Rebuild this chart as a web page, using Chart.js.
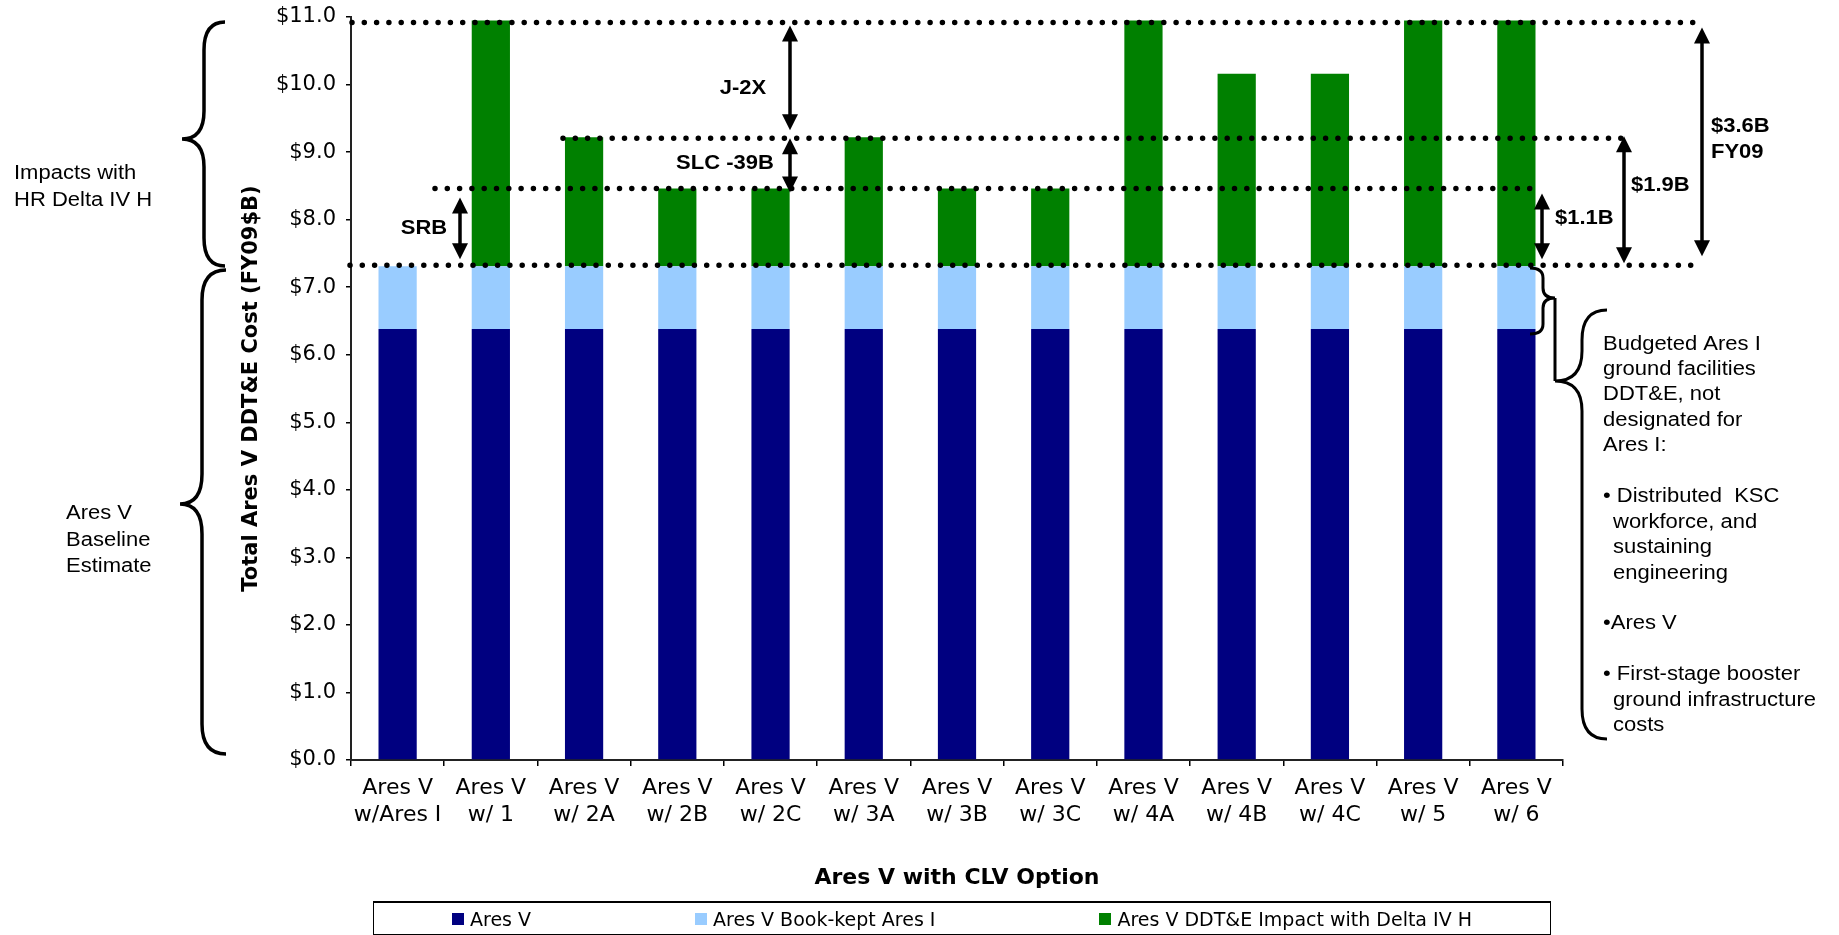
<!DOCTYPE html>
<html>
<head>
<meta charset="utf-8">
<title>Ares V DDT&amp;E Cost</title>
<script src="https://cdn.jsdelivr.net/npm/chart.js@4.4.0/dist/chart.umd.min.js"></script>
<style>
  html, body { margin: 0; padding: 0; background: #fff; }
  #wrap { position: relative; width: 1839px; height: 935px; }
  #legend {
    position: absolute; left: 373px; top: 901px; width: 1176px; height: 31px;
    border: 1px solid #000; border-top-width: 2px;
    display: flex; justify-content: center; align-items: center; gap: 164px;
    font-family: "DejaVu Sans", sans-serif; font-size: 19px; color: #000;
  }
  .item { white-space: nowrap; display: flex; align-items: center; }
  .box { display: inline-block; width: 12px; height: 12px; margin-right: 6px; }
</style>
</head>
<body>
<div id="wrap">
  <canvas id="chart" width="1839" height="935"></canvas>
  <div id="legend"></div>
</div>
<script>
// categories (two-line tick labels)
var categories = [
    ["Ares V", "w/Ares I"], ["Ares V", "w/ 1"], ["Ares V", "w/ 2A"], ["Ares V", "w/ 2B"],
    ["Ares V", "w/ 2C"], ["Ares V", "w/ 3A"], ["Ares V", "w/ 3B"], ["Ares V", "w/ 3C"],
    ["Ares V", "w/ 4A"], ["Ares V", "w/ 4B"], ["Ares V", "w/ 4C"], ["Ares V", "w/ 5"],
    ["Ares V", "w/ 6"]
];

// series, FY09 $B
var aresV = [6.38, 6.38, 6.38, 6.38, 6.38, 6.38, 6.38, 6.38, 6.38, 6.38, 6.38, 6.38, 6.38];
var bookKept = [0.93, 0.93, 0.93, 0.93, 0.93, 0.93, 0.93, 0.93, 0.93, 0.93, 0.93, 0.93, 0.93];
var deltaImpact = [0, 3.64, 1.91, 1.15, 1.15, 1.91, 1.15, 1.15, 3.64, 2.85, 2.85, 3.64, 3.64];

var seriesNames = ["Ares V", "Ares V Book-kept Ares I", "Ares V DDT&E Impact with Delta IV H"];
var seriesColors = ["#000080", "#99CCFF", "#008000"];

var yMin = 0, yMax = 11, yStep = 1;

function dots(ctx, x1, x2, y) {
    ctx.save();
    ctx.strokeStyle = "#000";
    ctx.lineWidth = 5.5;
    ctx.lineCap = "round";
    ctx.setLineDash([0, 12.3]);
    ctx.beginPath();
    ctx.moveTo(x1, y);
    ctx.lineTo(x2, y);
    ctx.stroke();
    ctx.restore();
}

function arrow(ctx, x, y1, y2) {
    var h = 16, w = 8;
    ctx.save();
    ctx.fillStyle = "#000";
    ctx.strokeStyle = "#000";
    ctx.lineWidth = 3.5;
    ctx.beginPath();
    ctx.moveTo(x, y1 + h - 2);
    ctx.lineTo(x, y2 - h + 2);
    ctx.stroke();
    ctx.beginPath();
    ctx.moveTo(x, y1);
    ctx.lineTo(x - w, y1 + h);
    ctx.lineTo(x + w, y1 + h);
    ctx.closePath();
    ctx.fill();
    ctx.beginPath();
    ctx.moveTo(x, y2);
    ctx.lineTo(x - w, y2 - h);
    ctx.lineTo(x + w, y2 - h);
    ctx.closePath();
    ctx.fill();
    ctx.restore();
}

function brace(ctx, endX, spineX, tipX, y1, tipY, y2, r) {
    ctx.beginPath();
    ctx.moveTo(endX, y1);
    ctx.quadraticCurveTo(spineX, y1, spineX, y1 + r);
    ctx.lineTo(spineX, tipY - r);
    ctx.quadraticCurveTo(spineX, tipY, tipX, tipY);
    ctx.quadraticCurveTo(spineX, tipY, spineX, tipY + r);
    ctx.lineTo(spineX, y2 - r);
    ctx.quadraticCurveTo(spineX, y2, endX, y2);
    ctx.stroke();
}

function label(ctx, str, x, y, bold, align) {
    ctx.save();
    ctx.font = (bold ? "bold " : "") + "20px 'Liberation Sans', Arial, sans-serif";
    ctx.fillStyle = "#000";
    ctx.textBaseline = "middle";
    ctx.textAlign = align || "left";
    ctx.translate(x, y);
    ctx.scale(1.1, 1);
    ctx.fillText(str, 0, 0);
    ctx.restore();
}

var notes = {
    id: "notes",
    afterDraw: function (chart) {
        var ctx = chart.ctx;
        var y = chart.scales.y;
        var base = aresV[0] + bookKept[0];
        var yBase = y.getPixelForValue(base);
        var ySrb = y.getPixelForValue(base + deltaImpact[3]);
        var ySlc = y.getPixelForValue(base + deltaImpact[2]);
        var yJ2x = y.getPixelForValue(base + deltaImpact[1]);

        dots(ctx, 352, 1703, yJ2x + 2);
        dots(ctx, 563, 1633, ySlc + 1);
        dots(ctx, 435, 1540, ySrb);
        dots(ctx, 350, 1703, yBase - 1);

        arrow(ctx, 460, ySrb + 9, yBase - 7);
        arrow(ctx, 790, yJ2x + 5, ySlc - 7);
        arrow(ctx, 790, ySlc + 1, ySrb + 4);
        arrow(ctx, 1542, ySrb + 5, yBase - 7);
        arrow(ctx, 1624, ySlc - 1, yBase - 3);
        arrow(ctx, 1702, yJ2x + 7, yBase - 10);

        label(ctx, "SRB", 424, 228, true, "center");
        label(ctx, "J-2X", 743, 88, true, "center");
        label(ctx, "SLC -39B", 725, 163, true, "center");
        label(ctx, "$1.1B", 1555, 218, true);
        label(ctx, "$1.9B", 1631, 185, true);
        label(ctx, "$3.6B", 1711, 126, true);
        label(ctx, "FY09", 1711, 152, true);

        label(ctx, "Impacts with", 14, 173);
        label(ctx, "HR Delta IV H", 14, 200);
        label(ctx, "Ares V", 66, 513);
        label(ctx, "Baseline", 66, 540);
        label(ctx, "Estimate", 66, 566);

        ctx.save();
        ctx.strokeStyle = "#000";
        ctx.lineWidth = 3.5;
        brace(ctx, 225, 204, 182, 22, 139, 266, 28);
        brace(ctx, 226, 202, 180, 270, 504, 754, 30);
        ctx.lineWidth = 3;
        brace(ctx, 1530, 1543, 1555, 268, 298, 334, 10);
        ctx.beginPath();
        ctx.moveTo(1555, 298);
        ctx.lineTo(1555, 381);
        ctx.stroke();
        brace(ctx, 1607, 1582, 1555, 310, 381, 739, 30);
        ctx.restore();

        var lines = [
            [0, "Budgeted Ares I"], [0, "ground facilities"], [0, "DDT&E, not"],
            [0, "designated for"], [0, "Ares I:"], [0, ""],
            [0, "\u2022 Distributed  KSC"], [10, "workforce, and"], [10, "sustaining"],
            [10, "engineering"], [0, ""], [0, "\u2022Ares V"], [0, ""],
            [0, "\u2022 First-stage booster"], [10, "ground infrastructure"], [10, "costs"]
        ];
        lines.forEach(function (l, i) {
            if (l[1]) label(ctx, l[1], 1603 + l[0], 344 + i * 25.45);
        });
    }
};

var ctx = document.getElementById("chart").getContext("2d");
var chart = new Chart(ctx, {
    type: "bar",
    data: {
        labels: categories,
        datasets: [
            { label: seriesNames[0], data: aresV, backgroundColor: seriesColors[0] },
            { label: seriesNames[1], data: bookKept, backgroundColor: seriesColors[1] },
            { label: seriesNames[2], data: deltaImpact, backgroundColor: seriesColors[2] }
        ]
    },
    options: {
        responsive: false,
        animation: false,
        devicePixelRatio: 1,
        datasets: { bar: { barPercentage: 0.41, categoryPercentage: 1.0 } },
        layout: { padding: { left: 239, right: 276, top: 17, bottom: 0 } },
        plugins: { legend: { display: false }, tooltip: { enabled: false } },
        scales: {
            x: {
                stacked: true,
                grid: { display: true, drawOnChartArea: false, offset: true, tickLength: 6, color: "#000", lineWidth: 1.5 },
                border: { display: true, color: "#222", width: 2 },
                ticks: {
                    color: "#000", padding: 9, maxRotation: 0, autoSkip: false,
                    font: { family: "DejaVu Sans", size: 22, lineHeight: 1.23 }
                },
                title: {
                    display: true, text: "Ares V with CLV Option", color: "#000",
                    font: { family: "DejaVu Sans", size: 22, weight: "bold" },
                    padding: { top: 0, bottom: 44 }
                },
                afterFit: function (s) { s.height = 175; }
            },
            y: {
                stacked: true, min: yMin, max: yMax,
                grid: { display: true, drawOnChartArea: false, tickLength: 5, color: "#000", lineWidth: 1.5 },
                border: { display: true, color: "#222", width: 2 },
                ticks: {
                    stepSize: yStep, color: "#000", padding: 10,
                    font: { family: "DejaVu Sans", size: 21 },
                    callback: function (v) { return "$" + Number(v).toFixed(1); }
                },
                title: {
                    display: true, text: "Total Ares V DDT&E Cost (FY09$B)", color: "#000",
                    font: { family: "DejaVu Sans", size: 21, weight: "bold" },
                    padding: { top: 0, bottom: 0 }
                },
                afterFit: function (s) { s.width = 112; s.paddingTop = 0; s.paddingBottom = 0; }
            }
        }
    },
    plugins: [notes]
});

// legend built from the datasets
var leg = document.getElementById("legend");
chart.data.datasets.forEach(function (d) {
    var item = document.createElement("span");
    item.className = "item";
    var box = document.createElement("span");
    box.className = "box";
    box.style.background = d.backgroundColor;
    item.appendChild(box);
    item.appendChild(document.createTextNode(d.label));
    leg.appendChild(item);
});
</script>
</body>
</html>
